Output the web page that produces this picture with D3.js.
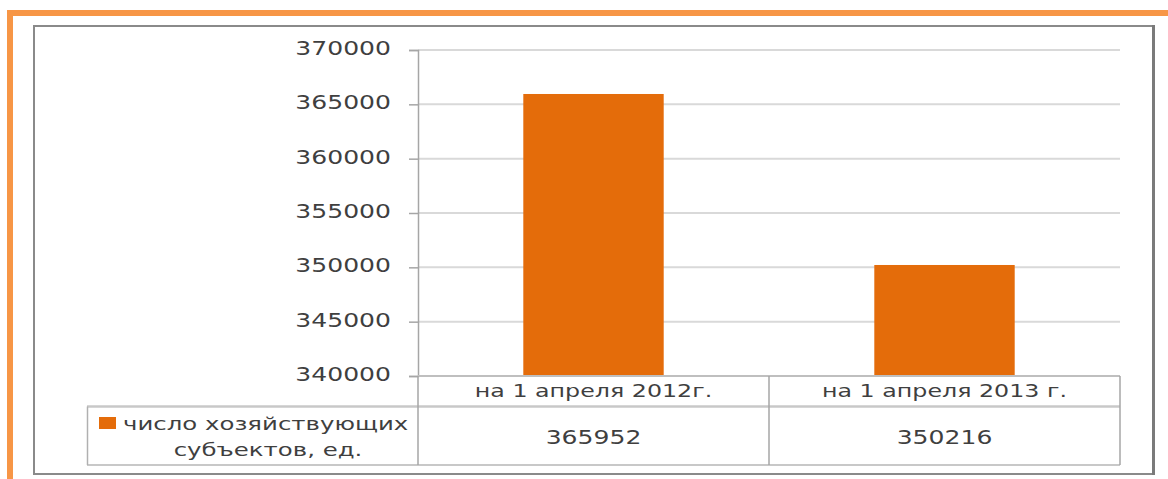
<!DOCTYPE html>
<html><head><meta charset="utf-8">
<script src="https://cdn.jsdelivr.net/npm/d3@7"></script>
<style>body{margin:0;background:#fff;}svg{display:block;}</style>
</head><body>
<svg id="c" width="1168" height="479"></svg>
<script>
const categories = ["на 1 апреля 2012г.", "на 1 апреля 2013 г."];
const values = [365952, 350216];
const valueLabels = ["365952", "350216"];
const seriesName = ["число хозяйствующих", "субъектов, ед."];
const yTicks = [340000, 345000, 350000, 355000, 360000, 365000, 370000];

const svg = d3.select("#c");
const SX = 1.32;
const txtColor = "#3f3f3f";
const font = "DejaVu Sans";

// orange outer border
svg.append("rect").attr("x", 7).attr("y", 10).attr("width", 1161).attr("height", 6).attr("fill", "#F79646");
svg.append("rect").attr("x", 7).attr("y", 10).attr("width", 6).attr("height", 469).attr("fill", "#F79646");
// gray chart frame
svg.append("rect").attr("x", 34).attr("y", 26).attr("width", 1119).attr("height", 448)
  .attr("fill", "none").attr("stroke", "#8a8a8a").attr("stroke-width", 2);
svg.append("line").attr("x1", 1153.5).attr("x2", 1153.5).attr("y1", 25).attr("y2", 475).attr("stroke", "#7a7a7a").attr("stroke-width", 3);

const x0 = 418, x1 = 1120;
const y = d3.scaleLinear().domain([340000, 370000]).range([376, 50]);
const x = d3.scaleBand().domain(categories).range([x0, x1]).paddingInner(0.6).paddingOuter(0.3);
const step = x.step();

function stext(g, tx, ty, s, anchor, size) {
  return g.append("text").attr("transform", `translate(${tx},${ty}) scale(${SX},1)`)
    .attr("text-anchor", anchor).attr("font-family", font).attr("font-size", size || 18)
    .attr("fill", txtColor).text(s);
}

// gridlines
svg.append("g").selectAll("line").data(yTicks.filter(t => t > 340000)).join("line")
  .attr("x1", x0).attr("x2", x1).attr("y1", d => y(d)).attr("y2", d => y(d))
  .attr("stroke", "#d9d9d9").attr("stroke-width", 2);

// y axis via d3 axis
const yAxis = d3.axisLeft(y).tickValues(yTicks).tickSize(9).tickFormat(() => "");
const ga = svg.append("g").attr("transform", `translate(${x0},0)`).call(yAxis);
ga.select(".domain").attr("stroke", "#a6a6a6").attr("stroke-width", 1.5);
ga.selectAll(".tick line").attr("stroke", "#a6a6a6").attr("stroke-width", 1.5);
const gl = svg.append("g");
yTicks.forEach(t => stext(gl, 391, y(t) + 5, d3.format("d")(t), "end", 19));

// bars
svg.append("g").selectAll("rect").data(values).join("rect")
  .attr("x", (d, i) => x(categories[i])).attr("width", x.bandwidth())
  .attr("y", d => y(d)).attr("height", d => y(340000) - y(d))
  .attr("fill", "#E46C0A");

// data table
const tl = svg.append("g").attr("stroke", "#a0a0a0").attr("stroke-width", 1.5);
const rowTop = 376, rowMid = 406.5, rowBot = 465;
tl.append("line").attr("x1", x0).attr("x2", x1).attr("y1", rowTop).attr("y2", rowTop).attr("stroke", "#bfbfbf").attr("stroke-width", 2);
tl.append("line").attr("x1", 87).attr("x2", x1).attr("y1", rowMid).attr("y2", rowMid).attr("stroke", "#c8c8c8").attr("stroke-width", 2.5);
tl.append("line").attr("x1", 87).attr("x2", x1).attr("y1", rowBot).attr("y2", rowBot).attr("stroke", "#c8c8c8").attr("stroke-width", 2);
tl.append("line").attr("x1", 87.5).attr("x2", 87.5).attr("y1", rowMid).attr("y2", rowBot).attr("stroke", "#b0b0b0");
tl.append("line").attr("x1", x0).attr("x2", x0).attr("y1", rowTop).attr("y2", rowBot).attr("stroke", "#a6a6a6");
categories.forEach((c, i) => {
  const xr = x0 + step * (i + 1);
  tl.append("line").attr("x1", xr).attr("x2", xr).attr("y1", rowTop).attr("y2", rowBot).attr("stroke", "#a6a6a6");
});
const gt = svg.append("g");
categories.forEach((c, i) => {
  const cx = x0 + step * (i + 0.5);
  stext(gt, cx, 397, c, "middle", 18);
  stext(gt, cx, 444, valueLabels[i], "middle", 19);
});
// legend key
svg.append("rect").attr("x", 99).attr("y", 417).attr("width", 17).attr("height", 12).attr("fill", "#E46C0A");
stext(gt, 123, 430, seriesName[0], "start", 18.5);
stext(gt, 268, 456, seriesName[1], "middle", 18.5);
</script>
</body></html>
